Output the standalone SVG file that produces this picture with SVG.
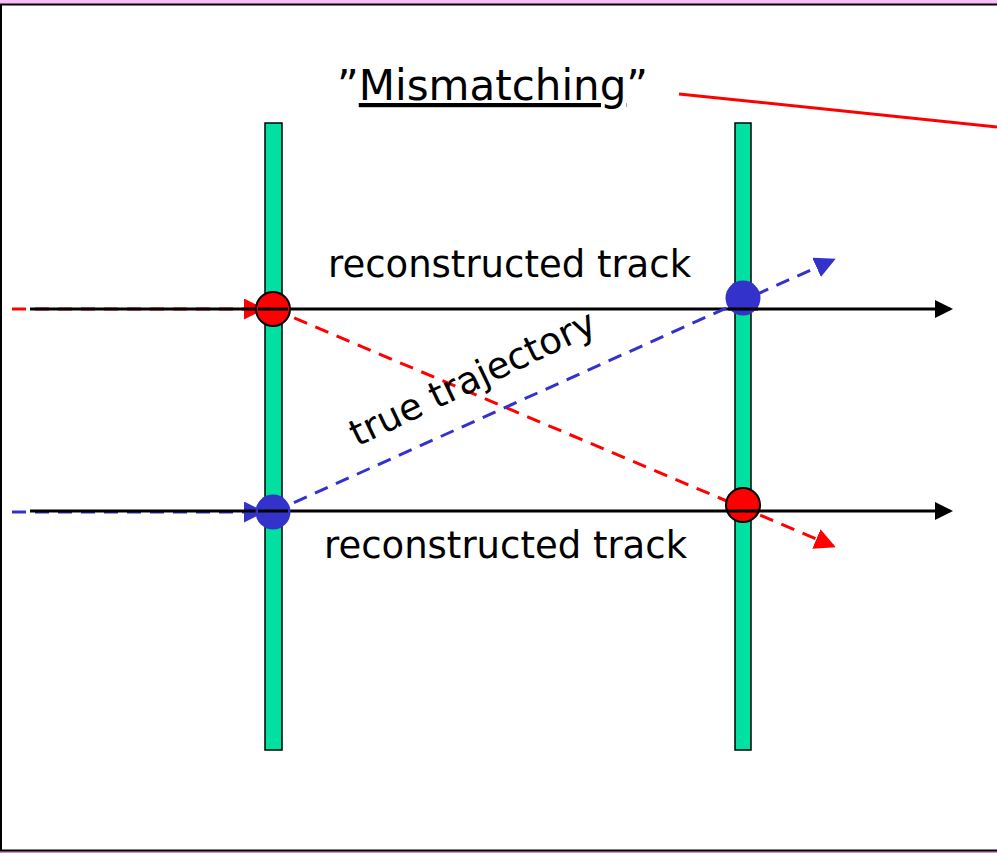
<svg xmlns="http://www.w3.org/2000/svg" width="997" height="853" viewBox="0 0 997 853">
<style>
.t{font-family:"DejaVu Sans",sans-serif;fill:#000}
.det{fill:#00e0a0;stroke:#000;stroke-width:1.5}
.trk{stroke:#000;stroke-width:3;fill:none}
.rd{stroke:#ff0000;stroke-width:3;stroke-dasharray:14,9;fill:none}
.bd{stroke:#3333cc;stroke-width:3;stroke-dasharray:14,9;fill:none}
</style>
<defs>
<marker id="ak" markerWidth="6" markerHeight="6" refX="5" refY="3" orient="auto" markerUnits="strokeWidth"><path d="M0,0L6,3L0,6z" fill="#000"/></marker>
<marker id="ar" markerWidth="7" markerHeight="7" refX="6" refY="3.5" orient="auto" markerUnits="strokeWidth"><path d="M0,0L7,3.5L0,7z" fill="#ff0000"/></marker>
<marker id="ab" markerWidth="7" markerHeight="7" refX="6" refY="3.5" orient="auto" markerUnits="strokeWidth"><path d="M0,0L7,3.5L0,7z" fill="#3333cc"/></marker>
</defs>
<rect x="0" y="0" width="997" height="4" fill="#f8c0f8"/>
<rect x="0" y="851" width="997" height="2" fill="#d090c8"/>
<rect x="1" y="4.5" width="1000" height="846" fill="#fff" stroke="#000" stroke-width="2"/>
<g id="detector1"><rect class="det" x="265" y="123" width="17" height="627"/></g>
<g id="detector2"><rect class="det" x="735" y="123" width="16" height="627"/></g>
<g id="connectors">
<line class="rd" x1="12" y1="309" x2="262" y2="309" marker-end="url(#ar)"/>
<line class="bd" x1="12" y1="512" x2="262" y2="512" marker-end="url(#ab)"/>
<line class="trk" x1="30" y1="309" x2="950" y2="309" marker-end="url(#ak)"/>
<line class="trk" x1="30" y1="511" x2="950" y2="511" marker-end="url(#ak)"/>
<line class="rd" x1="273" y1="309" x2="833" y2="546" marker-end="url(#ar)"/>
<line class="bd" x1="273" y1="512" x2="833" y2="260" marker-end="url(#ab)"/>
<line x1="679" y1="94" x2="997" y2="127" stroke="#ff0000" stroke-width="3"/>
</g>
<g id="hit1"><circle cx="273" cy="309" r="17" fill="#ff0000" stroke="#000" stroke-width="2"/></g>
<g id="hit2"><circle cx="743" cy="298" r="17.5" fill="#3333cc"/></g>
<g id="hit3"><circle cx="273" cy="512" r="17.5" fill="#3333cc"/></g>
<g id="hit4"><circle cx="743" cy="505" r="17" fill="#ff0000" stroke="#000" stroke-width="2"/></g>
<line x1="258" y1="309" x2="288" y2="309" stroke="#000" stroke-width="3"/>
<line x1="258" y1="511" x2="288" y2="511" stroke="#000" stroke-width="3"/>
<line x1="728" y1="309" x2="758" y2="309" stroke="#000" stroke-width="3"/>
<line x1="728" y1="511" x2="758" y2="511" stroke="#000" stroke-width="3"/>
<g id="labels">
<text class="t" x="337" y="100" font-size="42">”<tspan text-decoration="underline">Mismatching</tspan>”</text>
<text class="t" x="328" y="277" font-size="37">reconstructed track</text>
<text class="t" x="324" y="558" font-size="37">reconstructed track</text>
<text class="t" x="0" y="0" font-size="37" transform="translate(357,447) rotate(-25.5)">true trajectory</text>
</g>
</svg>
